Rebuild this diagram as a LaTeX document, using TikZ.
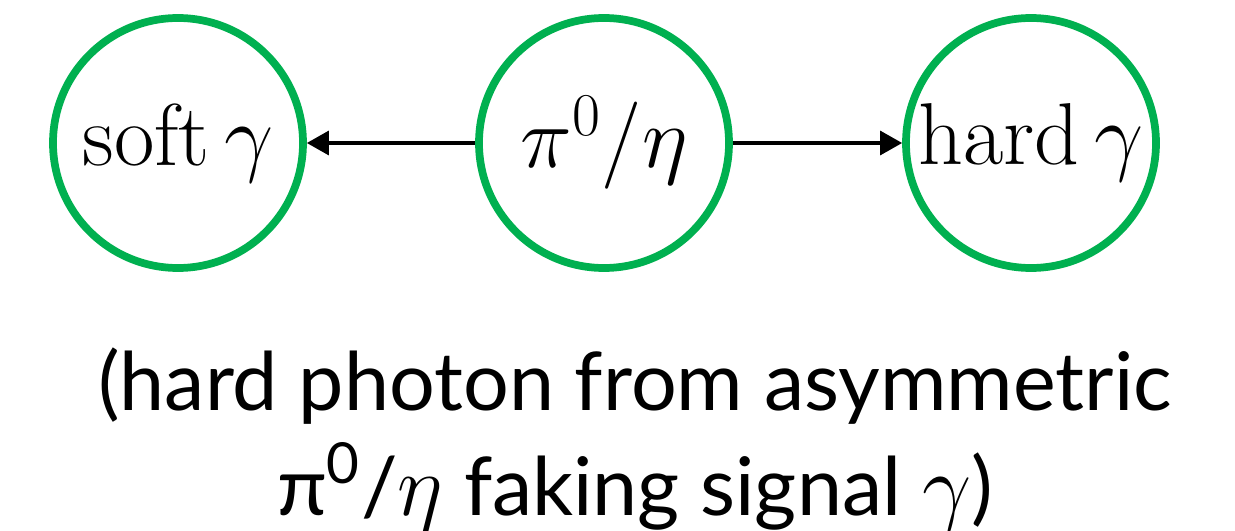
\documentclass[tikz,border=0pt]{standalone}
\usepackage{fontspec}
\usepackage{xcolor}
\usepackage{tikz}
\usetikzlibrary{arrows.meta}
\newfontfamily\capfont{Lato}
\definecolor{ballgreen}{RGB}{0,176,80}

\begin{document}
\begin{tikzpicture}[
    ball/.style={circle, draw=ballgreen, line width=2.2pt, minimum size=2.5cm,
                 inner sep=0pt, font=\fontsize{25}{30}\selectfont},
    arr/.style={-{Triangle[length=0.22cm, width=0.24cm]}, line width=0.9pt},
]
  \useasboundingbox (0,0) rectangle (12.35,-5.31);
  \node[ball] (soft) at (1.78,-1.43) {\raisebox{-0.2cm}{$\mathrm{soft}\,\gamma$}};
  \node[ball] (meson) at (6.04,-1.43) {\raisebox{-0.1cm}{$\pi^0/\eta$}};
  \node[ball] (hard) at (10.31,-1.43) {\raisebox{-0.2cm}{$\mathrm{hard}\,\gamma$}};

  \draw[arr] (meson) -- (soft);
  \draw[arr] (meson) -- (hard);

  \node[align=center, font=\capfont\fontsize{23}{30}\selectfont] (caption)
    at (6.35,-4.4) {(hard photon from asymmetric\\
    π\textsuperscript{0}/$\eta$ faking signal $\gamma$)};
\end{tikzpicture}
\end{document}
